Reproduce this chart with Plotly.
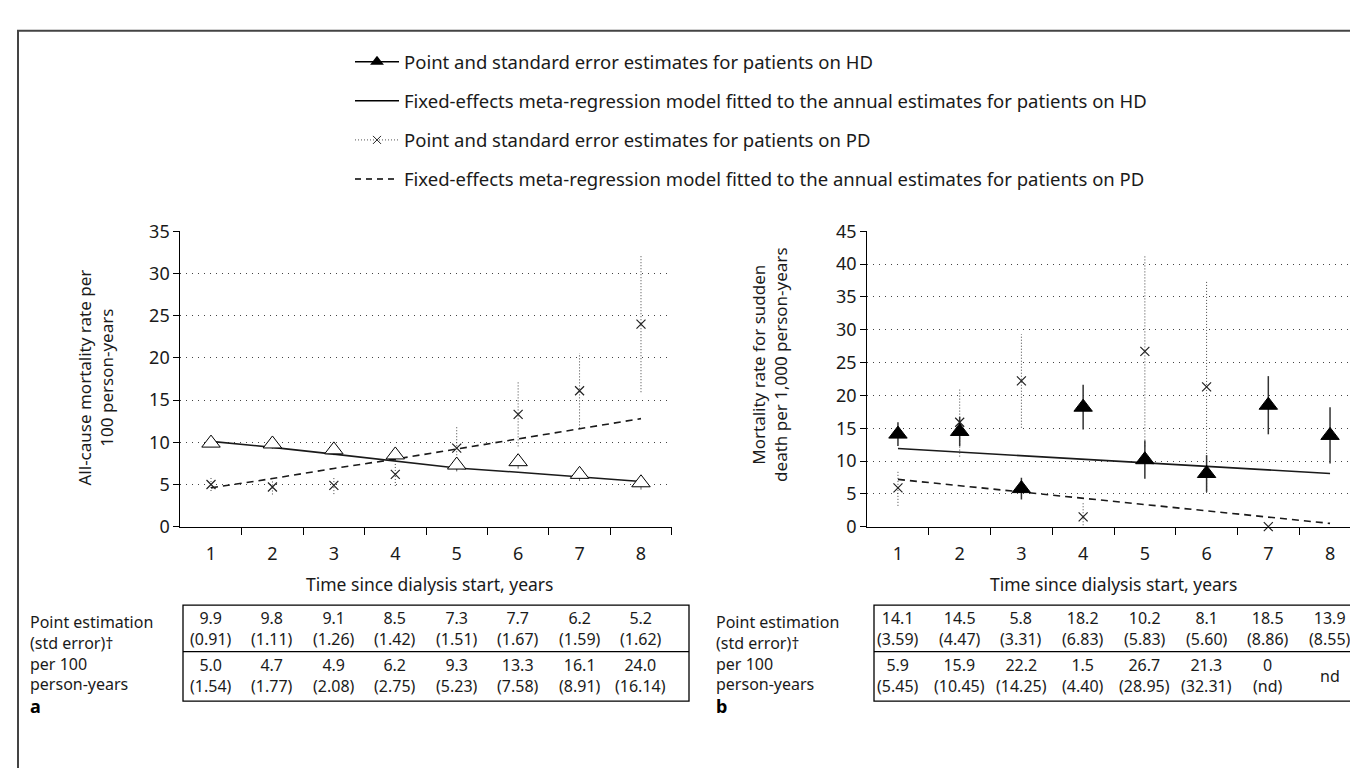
import plotly.graph_objects as go

W, H = 1358, 768
def px(x): return x / W
def py(y): return 1 - y / H

years = [1, 2, 3, 4, 5, 6, 7, 8]
tick_labels = ["1", "2", "3", "4", "5", "6", "7", "8"]

# Panel a: all-cause mortality per 100 person-years
hd_a = [9.9, 9.8, 9.1, 8.5, 7.3, 7.7, 6.2, 5.2]
hd_a_se = [0.91, 1.11, 1.26, 1.42, 1.51, 1.67, 1.59, 1.62]
pd_a = [5.0, 4.7, 4.9, 6.2, 9.3, 13.3, 16.1, 24.0]
pd_a_se = [1.54, 1.77, 2.08, 2.75, 5.23, 7.58, 8.91, 16.14]
fit_hd_a = [10.1, 9.4, 8.6, 7.8, 6.95, 6.45, 5.9, 5.35]
fit_pd_a = [4.6, 5.7, 6.9, 8.0, 9.2, 10.4, 11.6, 12.8]

# Panel b: sudden death per 1,000 person-years
hd_b = [14.1, 14.5, 5.8, 18.2, 10.2, 8.1, 18.5, 13.9]
hd_b_se = [3.59, 4.47, 3.31, 6.83, 5.83, 5.60, 8.86, 8.55]
pd_b = [5.9, 15.9, 22.2, 1.5, 26.7, 21.3, 0, None]
pd_b_se = [5.45, 10.45, 14.25, 4.40, 28.95, 32.31, None, None]
fit_x = [1, 8]
fit_hd_b = [11.9, 8.1]
fit_pd_b = [7.2, 0.5]

legend_labels = [
    "Point and standard error estimates for patients on HD",
    "Fixed-effects meta-regression model fitted to the annual estimates for patients on HD",
    "Point and standard error estimates for patients on PD",
    "Fixed-effects meta-regression model fitted to the annual estimates for patients on PD",
]
ytitle_a = "All-cause mortality rate per<br>100 person-years"
ytitle_b = "Mortality rate for sudden<br>death per 1,000 person-years"
xtitle = "Time since dialysis start, years"
row_labels = ["Point estimation", "(std error)†", "per 100", "person-years"]

TXT = "Noto Sans"
INK = "#1a1a1a"

def dotted_bars(xs, vals, ses):
    bx, by = [], []
    for x, v, s in zip(xs, vals, ses):
        if v is None or s is None:
            continue
        bx += [x, x, None]
        by += [v - s / 2, v + s / 2, None]
    return bx, by

fig = go.Figure()

def add_panel(xa, ya, hd, hd_se, pdv, pd_se, fx, fhd, fpd, open_tri, hd_err_color, hd_err_w):
    bx, by = dotted_bars(years, pdv, pd_se)
    fig.add_trace(go.Scatter(x=bx, y=by, mode="lines", xaxis=xa, yaxis=ya,
                             line=dict(color="#444", width=1, dash="1px,2px"),
                             showlegend=False, hoverinfo="skip"))
    fig.add_trace(go.Scatter(x=years, y=hd, mode="markers", xaxis=xa, yaxis=ya,
                             marker=dict(size=0.1, color="rgba(0,0,0,0)"),
                             error_y=dict(type="data", array=[s / 2 for s in hd_se],
                                          color=hd_err_color, thickness=hd_err_w, width=0),
                             showlegend=False, hoverinfo="skip"))
    fig.add_trace(go.Scatter(x=fx, y=fhd, mode="lines", xaxis=xa, yaxis=ya,
                             line=dict(color=INK, width=1.6), showlegend=False))
    fig.add_trace(go.Scatter(x=fx, y=fpd, mode="lines", xaxis=xa, yaxis=ya,
                             line=dict(color=INK, width=1.6, dash="7px,5px"), showlegend=False))
    fig.add_trace(go.Scatter(x=years, y=pdv, mode="markers", xaxis=xa, yaxis=ya,
                             marker=dict(symbol="x-thin", size=9, line=dict(color="#222", width=1.2)),
                             showlegend=False, cliponaxis=False))
    fig.add_trace(go.Scatter(x=years, y=hd, mode="markers", xaxis=xa, yaxis=ya,
                             marker=dict(symbol="triangle-up", size=16,
                                         color="white" if open_tri else "black",
                                         line=dict(color="black", width=1)),
                             showlegend=False))

add_panel("x", "y", hd_a, hd_a_se, pd_a, pd_a_se, years, fit_hd_a, fit_pd_a, True, "#666", 1)
add_panel("x2", "y2", hd_b, hd_b_se, pd_b, pd_b_se, fit_x, fit_hd_b, fit_pd_b, False, "#333", 1.5)

# legend entries
leg_styles = [
    dict(mode="lines+markers", line=dict(color="black", width=1.5),
         marker=dict(symbol="triangle-up", size=12, color="black")),
    dict(mode="lines", line=dict(color="black", width=1.5)),
    dict(mode="lines+markers", line=dict(color="#555", width=1, dash="1px,2px"),
         marker=dict(symbol="x-thin", size=8, line=dict(color="#222", width=1))),
    dict(mode="lines", line=dict(color="black", width=1.5, dash="6px,5px")),
]
for i, (lab, st) in enumerate(zip(legend_labels, leg_styles)):
    fig.add_trace(go.Scatter(x=[None], y=[None], name=lab, legendgroup=f"g{i}",
                             showlegend=True, **st))

axis_common = dict(showline=True, linecolor="black", linewidth=1, mirror=False,
                   tickfont=dict(family=TXT, size=18, color=INK), zeroline=False)
minor_ticks = dict(tickmode="array", tickvals=[1.5, 2.5, 3.5, 4.5, 5.5, 6.5, 7.5, 8.5],
                   ticks="outside", ticklen=7, tickcolor="black", showgrid=False)
fig.update_layout(
    xaxis=dict(domain=[px(172.3), px(663.7)], anchor="y", range=[0.5, 8.5],
               tickmode="array", tickvals=years, ticktext=tick_labels, ticks="",
               ticklabelstandoff=11,
               showgrid=False, minor=minor_ticks, **axis_common),
    yaxis=dict(domain=[py(522), py(217)], anchor="x", range=[0, 35], dtick=5,
               ticks="outside", ticklen=6, tickcolor="black",
               showgrid=True, gridcolor="#444", gridwidth=1, griddash="1px,5px",
               **axis_common),
    xaxis2=dict(domain=[px(859.1), px(1352.9)], anchor="y2", range=[0.5, 8.5],
                tickmode="array", tickvals=years, ticktext=tick_labels, ticks="",
                ticklabelstandoff=11,
                showgrid=False, minor=minor_ticks, **axis_common),
    yaxis2=dict(domain=[py(522), py(217)], anchor="x2", range=[0, 45], dtick=5,
                ticks="outside", ticklen=6, tickcolor="black",
                showgrid=True, gridcolor="#444", gridwidth=1, griddash="1px,5px",
                **axis_common),
)

ann = []
def A(text, x, y, xref="paper", size=16, xanchor="center", align="center", color=INK, **kw):
    ann.append(dict(text=text, x=x, y=y, xref=xref, yref="paper", showarrow=False,
                    xanchor=xanchor, yanchor="middle", align=align,
                    font=dict(family=TXT, size=size, color=color), **kw))

# axis titles
A(ytitle_a, px(87), py(368), size=17, textangle=-90)
A(ytitle_b, px(762), py(355), size=17, textangle=-90)
A(xtitle, px(421), py(581), size=17.5)
A(xtitle, px(1105), py(581), size=17.5)

def fmt(v):
    if v == 0:
        return "0"
    return f"{v:.1f}"

shapes = []
def add_table(xa, left, right, top, mid, bottom, rows, row_centers, label_x, letter):
    shapes.append(dict(type="rect", xref="paper", yref="paper", x0=px(left), x1=px(right),
                       y0=py(bottom), y1=py(top), line=dict(color="black", width=1.3)))
    shapes.append(dict(type="line", xref="paper", yref="paper", x0=px(left), x1=px(right),
                       y0=py(mid), y1=py(mid), line=dict(color="black", width=1.3)))
    for (vals, ses), cy in zip(rows, row_centers):
        for x, v, s in zip(years, vals, ses):
            if v is None:
                txt = "nd"
            else:
                txt = fmt(v) + "<br>" + ("(nd)" if s is None else f"({s:.2f})")
            A(txt, x, py(cy), xref=xa, size=16)
    A("<br>".join(row_labels), px(label_x), py(652), size=16, xanchor="left", align="left")
    A(f"<b>{letter}</b>", px(label_x), py(707), size=18, xanchor="left", color="black")

add_table("x", 175, 681, 603, 651, 702, [(hd_a, hd_a_se), (pd_a, pd_a_se)], [627, 676], 20, "a")
add_table("x2", 866, 1356, 603, 651, 702, [(hd_b, hd_b_se), (pd_b, pd_b_se)], [627, 676], 706, "b")

# outer frame
shapes.append(dict(type="rect", xref="paper", yref="paper", x0=px(10), x1=px(1380),
                   y0=py(790), y1=py(10), line=dict(color="#444", width=2)))

fig.update_layout(
    width=W, height=H, margin=dict(l=0, r=0, t=0, b=0),
    paper_bgcolor="white", plot_bgcolor="white",
    annotations=ann, shapes=shapes,
    showlegend=True,
    legend=dict(x=px(342), y=py(23), xanchor="left", yanchor="top",
                font=dict(family=TXT, size=18.5, color=INK), itemwidth=44,
                tracegroupgap=12, bgcolor="rgba(0,0,0,0)"),
)

fig.write_html("out.html")
